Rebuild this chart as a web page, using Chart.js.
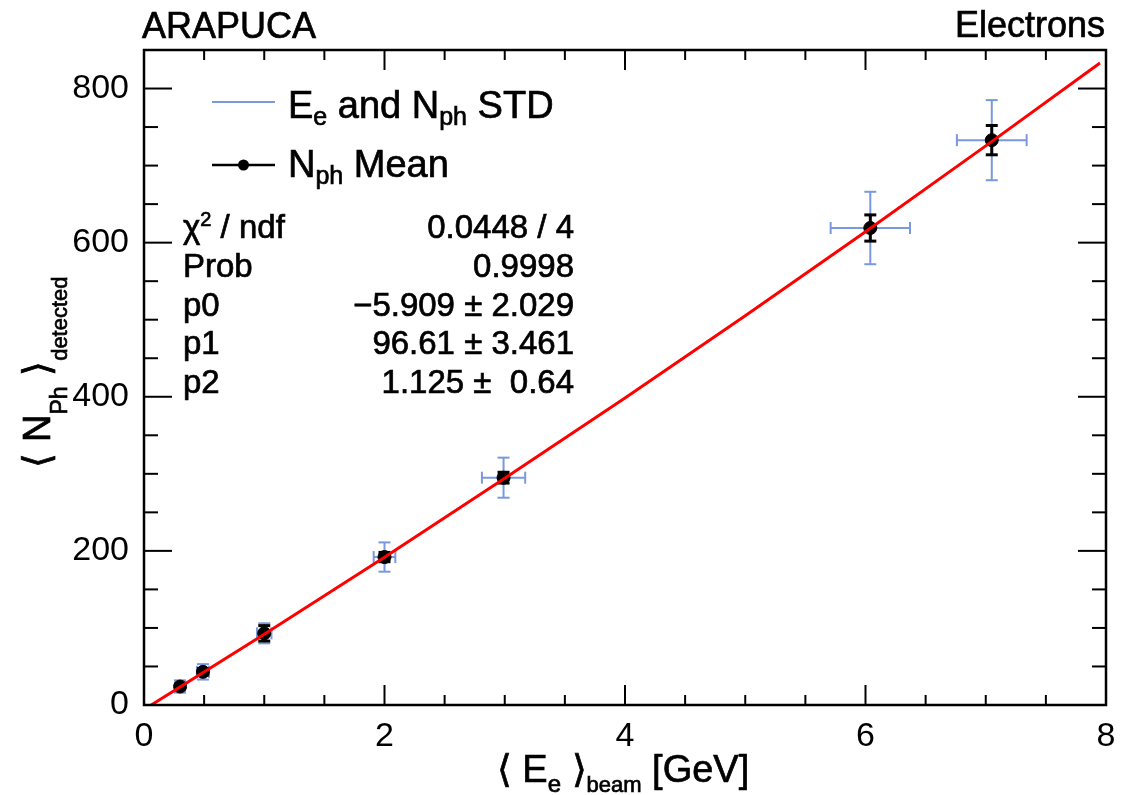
<!DOCTYPE html>
<html>
<head>
<meta charset="utf-8">
<title>ARAPUCA - Electrons</title>
<script src="https://cdn.jsdelivr.net/npm/chart.js@4.4.0/dist/chart.umd.min.js"></script>
<style>
    html, body { margin: 0; padding: 0; background: #fff; }
    #wrap { width: 1134px; height: 795px; }
</style>
</head>
<body>
<div id="wrap"><canvas id="chart" width="1134" height="795"></canvas></div>
<script>
/* ============================================
   DATA
   ============================================ */

// Beam energy <E_e> [GeV] and detected photons <N_ph>
const beamEnergy   = [0.30, 0.49, 1.00, 2.00, 2.99, 6.04, 7.05];
const photonMean   = [24, 43, 93, 192, 295, 619, 733];
const energyStd    = [0.04, 0.05, 0.06, 0.09, 0.18, 0.33, 0.29];
const photonStd    = [8, 10, 13, 19, 26, 47, 52];
const photonMeanErr = [3, 4, 10, 6, 7, 17, 19];

// Fit curve (pol2)
const fitEnergy  = [0, 1, 2, 3, 4, 5, 6, 7, 7.95];
const fitPhotons = [-5.9, 91.8, 191.8, 294.1, 398.5, 505.2, 614.2, 725.6, 833.2];

// Axis tick labels
const xTicks = [0, 2, 4, 6, 8];
const yTicks = [0, 200, 400, 600, 800];

// Fit statistics box
const statNames  = ['χ2 / ndf', 'Prob', 'p0', 'p1', 'p2'];
const statValues = ['0.0448 / 4', '0.9998', '−5.909 ± 2.029', '96.61 ± 3.461', '1.125 ±  0.64'];

/* ============================================
   STYLE
   ============================================ */
const FONT = '"Liberation Sans", Arial, Helvetica, sans-serif';
const RED = '#ff0000';
const BLUE = 'rgb(122, 152, 222)';

function setFont(ctx, size) {
    ctx.font = size + 'px ' + FONT;
}

// parts: [text, size, dy]
function drawRich(ctx, x, y, parts, align) {
    let w = 0;
    parts.forEach(p => { setFont(ctx, p[1]); w += ctx.measureText(p[0]).width; });
    let cx = x;
    if (align === 'right') cx = x - w;
    if (align === 'center') cx = x - w / 2;
    ctx.textAlign = 'left';
    ctx.textBaseline = 'alphabetic';
    ctx.lineWidth = 0.7;
    ctx.strokeStyle = ctx.fillStyle;
    parts.forEach(p => {
        setFont(ctx, p[1]);
        ctx.fillText(p[0], cx, y + (p[2] || 0));
        ctx.strokeText(p[0], cx, y + (p[2] || 0));
        cx += ctx.measureText(p[0]).width;
    });
}

function line(ctx, x1, y1, x2, y2) {
    ctx.beginPath();
    ctx.moveTo(x1, y1);
    ctx.lineTo(x2, y2);
    ctx.stroke();
}

/**
 * Error bars (blue STD cross, black error on the mean)
 */
const errorBars = {
    id: 'errorBars',
    beforeDatasetsDraw(chart) {
        const ctx = chart.ctx, xs = chart.scales.x, ys = chart.scales.y;
        ctx.save();
        ctx.strokeStyle = BLUE;
        ctx.lineWidth = 2;
        beamEnergy.forEach((e, i) => {
            const px = xs.getPixelForValue(e), py = ys.getPixelForValue(photonMean[i]);
            const x1 = xs.getPixelForValue(e - energyStd[i]), x2 = xs.getPixelForValue(e + energyStd[i]);
            const y1 = ys.getPixelForValue(photonMean[i] - photonStd[i]);
            const y2 = ys.getPixelForValue(photonMean[i] + photonStd[i]);
            line(ctx, x1, py, x2, py);
            line(ctx, px, y1, px, y2);
            line(ctx, x1, py - 6, x1, py + 6);
            line(ctx, x2, py - 6, x2, py + 6);
            line(ctx, px - 6, y1, px + 6, y1);
            line(ctx, px - 6, y2, px + 6, y2);
        });
        ctx.strokeStyle = '#000';
        ctx.lineWidth = 3;
        beamEnergy.forEach((e, i) => {
            const px = xs.getPixelForValue(e);
            const y1 = ys.getPixelForValue(photonMean[i] - photonMeanErr[i]);
            const y2 = ys.getPixelForValue(photonMean[i] + photonMeanErr[i]);
            line(ctx, px, y1, px, y2);
            line(ctx, px - 6, y1, px + 6, y1);
            line(ctx, px - 6, y2, px + 6, y2);
        });
        ctx.restore();
    }
};

/**
 * ROOT-like frame, ticks, titles, legend and stats box
 */
const rootFrame = {
    id: 'rootFrame',
    afterDraw(chart) {
        const ctx = chart.ctx, a = chart.chartArea;
        const xs = chart.scales.x, ys = chart.scales.y;
        ctx.save();
        ctx.strokeStyle = '#000';
        ctx.fillStyle = '#000';

        // ticks on all four sides
        ctx.lineWidth = 2;
        for (let v = 0; v <= 8.0001; v += 0.5) {
            const px = xs.getPixelForValue(v);
            const len = xTicks.includes(v) ? 20 : 10;
            line(ctx, px, a.bottom, px, a.bottom - len);
            line(ctx, px, a.top, px, a.top + len);
        }
        for (let v = 0; v < 850; v += 50) {
            const py = ys.getPixelForValue(v);
            const len = yTicks.includes(v) ? 28 : 14;
            line(ctx, a.left, py, a.left + len, py);
            line(ctx, a.right, py, a.right - len, py);
        }

        // frame
        ctx.lineWidth = 2.5;
        ctx.strokeRect(a.left, a.top, a.right - a.left, a.bottom - a.top);

        // top labels
        drawRich(ctx, 142, 38, [['ARAPUCA', 36]], 'left');
        drawRich(ctx, 1105, 37, [['Electrons', 36]], 'right');

        // x title
        drawRich(ctx, 623, 782, [
            ['⟨ E', 38], ['e', 24, 10], [' ⟩', 38], ['beam', 22, 10], [' [GeV]', 38]
        ], 'center');

        // y title
        ctx.save();
        ctx.translate(50, 372);
        ctx.rotate(-Math.PI / 2);
        drawRich(ctx, 0, 0, [
            ['⟨ N', 38], ['Ph', 23, 17], [' ⟩', 38], ['detected', 22, 17]
        ], 'center');
        ctx.restore();

        // legend
        ctx.strokeStyle = BLUE;
        ctx.lineWidth = 2;
        line(ctx, 212, 102, 275, 102);
        drawRich(ctx, 288, 118, [['E', 38], ['e', 25, 7], [' and N', 38], ['ph', 25, 7], [' STD', 38]], 'left');
        ctx.strokeStyle = '#000';
        ctx.lineWidth = 2.5;
        line(ctx, 212, 165, 275, 165);
        ctx.beginPath();
        ctx.arc(243.5, 165, 5.5, 0, Math.PI * 2);
        ctx.fill();
        drawRich(ctx, 288, 177, [['N', 38], ['ph', 25, 7], [' Mean', 38]], 'left');

        // stats box
        statNames.forEach((name, i) => {
            const y = 238 + i * 38.8;
            if (name.startsWith('χ2')) {
                drawRich(ctx, 183, y, [['χ', 33], ['2', 20, -12], [name.slice(2), 33]], 'left');
            } else {
                drawRich(ctx, 183, y, [[name, 33]], 'left');
            }
            drawRich(ctx, 574, y, [[statValues[i], 33]], 'right');
        });

        ctx.restore();
    }
};

/* ============================================
   CHART
   ============================================ */
const fitData = fitEnergy.map((x, i) => ({ x: x, y: fitPhotons[i] }));
const meanData = beamEnergy.map((x, i) => ({ x: x, y: photonMean[i] }));

const tickFont = { family: FONT, size: 34 };

new Chart(document.getElementById('chart'), {
    type: 'scatter',
    data: {
        datasets: [{
            label: 'pol2 fit',
            data: fitData,
            showLine: true,
            borderColor: RED,
            borderWidth: 3,
            pointRadius: 0,
            clip: 0,
            order: 0
        }, {
            label: 'N_ph Mean',
            data: meanData,
            showLine: false,
            pointRadius: 6.5,
            backgroundColor: '#000',
            borderColor: '#000',
            order: 1
        }]
    },
    options: {
        responsive: false,
        animation: false,
        layout: { padding: { top: 50, right: 28, left: 0, bottom: 0 } },
        plugins: {
            legend: { display: false },
            tooltip: { enabled: false }
        },
        scales: {
            x: {
                type: 'linear',
                min: 0,
                max: 8,
                grid: { display: false },
                border: { display: false },
                ticks: {
                    stepSize: 2,
                    includeBounds: false,
                    padding: 3,
                    color: '#000',
                    font: tickFont,
                    maxRotation: 0
                },
                afterFit: s => { s.height = 90; }
            },
            y: {
                type: 'linear',
                min: 0,
                max: 850,
                grid: { display: false },
                border: { display: false },
                ticks: {
                    stepSize: 200,
                    includeBounds: false,
                    padding: 7,
                    color: '#000',
                    font: tickFont
                },
                afterBuildTicks: s => {
                    s.ticks = s.ticks.filter(t => yTicks.includes(t.value));
                },
                afterFit: s => { s.width = 144; }
            }
        }
    },
    plugins: [errorBars, rootFrame]
});
</script>
</body>
</html>
